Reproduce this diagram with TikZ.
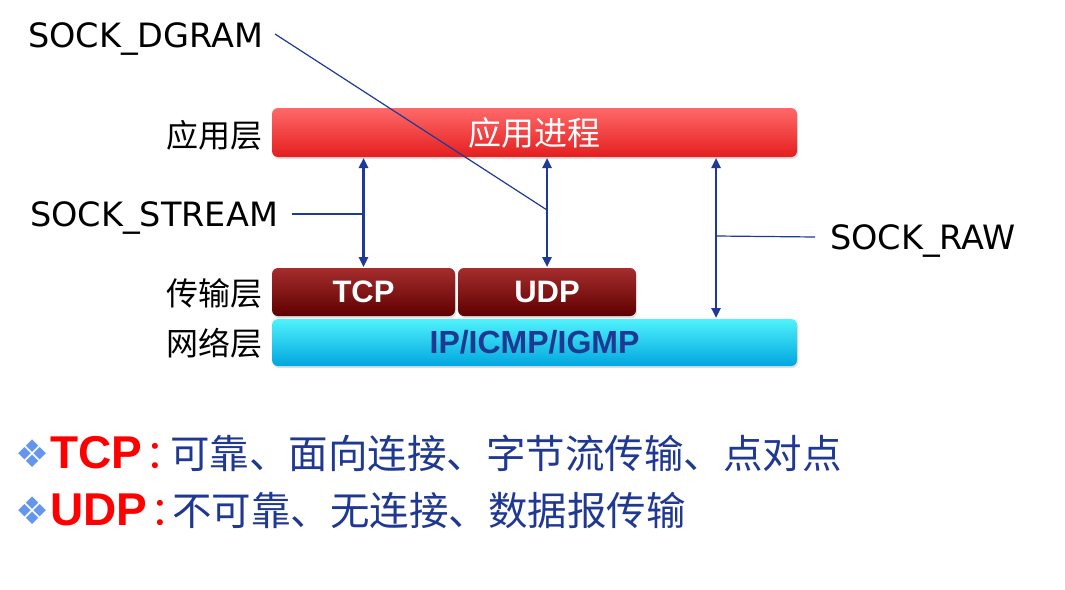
\documentclass[tikz,border=0pt]{standalone}
\usepackage{fontspec}
\newfontfamily\cjk{Noto Sans CJK SC}
\newfontfamily\dej{DejaVu Sans}
\newfontfamily\arl{Liberation Sans}
\usetikzlibrary{arrows.meta,shadows}
\definecolor{arrowblue}{RGB}{30,58,150}
\definecolor{txtblue}{RGB}{31,56,146}
\definecolor{redtop}{RGB}{255,105,105}
\definecolor{redmid}{RGB}{246,40,40}
\definecolor{redbot}{RGB}{228,30,30}
\definecolor{drtop}{RGB}{165,45,45}
\definecolor{drmid}{RGB}{112,6,6}
\definecolor{drbot}{RGB}{95,0,0}
\definecolor{cytop}{RGB}{80,242,252}
\definecolor{cymid}{RGB}{0,182,232}
\definecolor{cybot}{RGB}{0,166,222}
\definecolor{diamondblue}{RGB}{100,150,240}
\begin{document}
\begin{tikzpicture}[x=1pt,y=-1pt,
  layerbox/.style={rounded corners=6pt, inner sep=0pt, outer sep=0pt, anchor=north west,
    drop shadow={opacity=0.25,shadow xshift=1pt,shadow yshift=-2pt}},
  redbox/.style={layerbox, top color=redtop, middle color=redmid, bottom color=redbot,
    text=white, font=\cjk\fontsize{33}{38}\selectfont},
  darkbox/.style={layerbox, top color=drtop, middle color=drmid, bottom color=drbot,
    text=white, font=\arl\bfseries\fontsize{31}{36}\selectfont},
  cyanbox/.style={layerbox, top color=cytop, middle color=cymid, bottom color=cybot,
    text=txtblue, font=\arl\bfseries\fontsize{32}{36}\selectfont},
  layerlabel/.style={anchor=base east, inner sep=0pt, font=\cjk\fontsize{32}{36}\selectfont},
  socklabel/.style={anchor=base west, inner sep=0pt, font=\dej\fontsize{33.5}{38}\selectfont},
  dblarrow/.style={arrowblue, line width=2.4pt,
    {Triangle[length=10pt,width=9pt]}-{Triangle[length=10pt,width=9pt]}, shorten <=1pt, shorten >=1pt},
  pointer/.style={arrowblue, line width=1.2pt},
  bullet/.style={anchor=base west, inner sep=0pt, text=diamondblue, font=\dej\fontsize{38}{42}\selectfont},
  keyword/.style={anchor=base west, inner sep=0pt, text=red, font=\arl\bfseries\fontsize{46}{50}\selectfont},
  kcolon/.style={anchor=base west, inner sep=0pt, text=red, font=\cjk\fontsize{39.5}{45}\selectfont},
  desc/.style={anchor=base west, inner sep=0pt, text=txtblue, font=\cjk\fontsize{39.5}{45}\selectfont}
]
\useasboundingbox (0,0) rectangle (1065,589);
\fill[white] (0,0) rectangle (1065,589);

% boxes
\node[redbox, minimum width=525pt, minimum height=49pt] (app) at (272,108) {应用进程};
\node[darkbox, minimum width=183pt, minimum height=48pt] (tcp) at (272,268) {TCP};
\node[darkbox, minimum width=178pt, minimum height=48pt] (udp) at (458,268) {UDP};
\node[cyanbox, minimum width=525pt, minimum height=47pt] (ip) at (272,319) {IP/ICMP/IGMP};

% layer labels
\node[layerlabel] (l1) at (263,147) {应用层};
\node[layerlabel] (l2) at (263,305) {传输层};
\node[layerlabel] (l3) at (263,355) {网络层};

% arrows
\coordinate (rawx) at (716,0);
\draw[dblarrow] (app.south -| tcp.north) -- (tcp.north);
\draw[dblarrow] (app.south -| udp.north) -- (udp.north);
\draw[dblarrow] (app.south -| rawx) -- (ip.north -| rawx);

% socket labels
\node[socklabel] (sdgram) at (28,47) {SOCK\_DGRAM};
\node[socklabel] (sstream) at (30,226) {SOCK\_STREAM};
\node[socklabel] (sraw) at (830,249) {SOCK\_RAW};

\coordinate (dgy) at (0,210);
\coordinate (sty) at (0,214);
\coordinate (rwy) at (0,236);
\coordinate (rwe) at (815,237);
\draw[pointer] (275,34) -- (udp.north |- dgy);
\draw[pointer] (292,214) -- (tcp.north |- sty);
\draw[pointer] (rwe) -- (rawx |- rwy);

% bottom text
\node[bullet] (b1) at (15,467) {❖};
\node[keyword] (k1) at (50,468) {TCP};
\node[kcolon] (c1) at ([xshift=3pt]k1.base east) {：};
\node[desc] (d1) at (170,468) {可靠、面向连接、字节流传输、点对点};

\node[bullet] (b2) at (15,524) {❖};
\node[keyword] (k2) at (50,525) {UDP};
\node[kcolon] (c2) at ([xshift=3pt]k2.base east) {：};
\node[desc] (d2) at (172,525) {不可靠、无连接、数据报传输};
\end{tikzpicture}
\end{document}
